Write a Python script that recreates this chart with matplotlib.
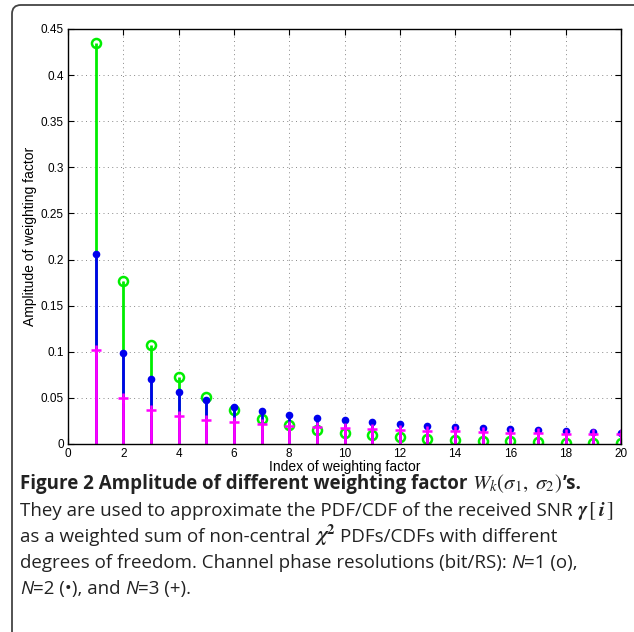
import matplotlib
matplotlib.use('Agg')
import matplotlib.pyplot as plt
from matplotlib.patches import FancyBboxPatch

# Valores: índice k e amplitude do fator de peso
indices = list(range(1, 21))
amp_n1 = [0.435, 0.1765, 0.107, 0.0723, 0.0513, 0.0369, 0.0275, 0.0206, 0.0155, 0.0119,
          0.0094, 0.0072, 0.0054, 0.0043, 0.0036, 0.0029, 0.0018, 0.0014, 0.0011, 0.0010]
amp_n2 = [0.2064, 0.0987, 0.0705, 0.0564, 0.0474, 0.0405, 0.0354, 0.0315, 0.0282, 0.0256,
          0.0238, 0.0217, 0.0198, 0.0184, 0.0169, 0.0158, 0.0148, 0.0137, 0.0130, 0.0123]
amp_n3 = [0.102, 0.0502, 0.0372, 0.0307, 0.0264, 0.0238, 0.0215, 0.0200, 0.0182, 0.0173,
          0.0158, 0.0148, 0.0144, 0.0137, 0.0130, 0.0123, 0.0119, 0.0112, 0.0108, 0.0104]

xticks = list(range(0, 21, 2))
yticks = [0, 0.05, 0.1, 0.15, 0.2, 0.25, 0.3, 0.35, 0.4, 0.45]
ytick_labels = ['0', '0.05', '0.1', '0.15', '0.2', '0.25', '0.3', '0.35', '0.4', '0.45']

plt.rcParams['mathtext.fontset'] = 'stix'

fig = plt.figure(figsize=(6.34, 6.32), dpi=100)
W, H = 634, 632
ax = fig.add_axes([68 / W, 1 - 444 / H, (621 - 68) / W, (444 - 29) / H])

# Borda arredondada da figura
box = FancyBboxPatch((12 / W, -0.05), 1.05, 1 - 5 / H + 0.05,
                     boxstyle='round,pad=0,rounding_size=0.014',
                     transform=fig.transFigure, facecolor='none',
                     edgecolor='#444444', linewidth=1.3, clip_on=False)
fig.patches.append(box)

series = [
    (amp_n1, '#00ee00', 'o', dict(markerfacecolor='none', markersize=6.5, markeredgewidth=1.8)),
    (amp_n2, '#0000ee', 'o', dict(markerfacecolor='#0000ee', markersize=5.5, markeredgewidth=0)),
    (amp_n3, '#ff00ff', '+', dict(markersize=6.5, markeredgewidth=1.8)),
]
for vals, cor, mk, estilo in series:
    ml, sl, bl = ax.stem(indices, vals, basefmt=' ')
    sl.set_color(cor)
    sl.set_linewidth(2)
    ml.set_marker(mk)
    ml.set_color(cor)
    ml.set(**estilo)

ax.set_xlim(0, 20)
ax.set_ylim(0, 0.45)
ax.set_xticks(xticks)
ax.set_yticks(yticks)
ax.set_yticklabels(ytick_labels)
ax.grid(True, linestyle=(0, (1, 3.5)), color='#888888', linewidth=0.7)
ax.set_axisbelow(True)
ax.tick_params(direction='in', top=True, right=True, length=4, width=0.8,
               labelsize=8.5, pad=3)
for lab in ax.get_xticklabels() + ax.get_yticklabels():
    lab.set_family('Liberation Sans')
for s in ax.spines.values():
    s.set_linewidth(1.0)

ax.set_xlabel('Index of weighting factor', family='Liberation Sans', fontsize=10, labelpad=0)
ax.set_ylabel('Amplitude of weighting factor', family='Liberation Sans', fontsize=10, labelpad=3)

# Legenda da figura (caption), montada pedaço a pedaço
renderer = fig.canvas.get_renderer()
fs = 13.5
fm = 15
txt = dict(family='Open Sans', fontsize=fs, color='#222222')
neg = dict(txt, fontweight='bold')
ita = dict(txt, style='italic')
mat = dict(fontsize=fm, color='#222222')
esp = 4.5


def escreve_linha(y_px, pedacos):
    x = 20
    for texto, kw, gap in pedacos:
        x += gap
        t = fig.text(x / W, 1 - y_px / H, texto, va='baseline', **kw)
        x = t.get_window_extent(renderer=renderer).x1


escreve_linha(489, [
    ('Figure 2 Amplitude of different weighting factor', neg, 0),
    (r'$W_k(\sigma_1,\ \sigma_2)$', mat, esp),
    ("\u2019s.", neg, 0.5),
])
escreve_linha(516, [
    ('They are used to approximate the PDF/CDF of the received SNR', txt, 0),
    (r'$\boldsymbol{\gamma}\,[\,\boldsymbol{i}\,]$', mat, esp),
])
escreve_linha(542, [
    ('as a weighted sum of non-central', txt, 0),
    (r'$\boldsymbol{\chi}^{\mathbf{2}}$', mat, esp),
    ('PDFs/CDFs with different', txt, esp),
])
escreve_linha(568, [
    ('degrees of freedom. Channel phase resolutions (bit/RS):', txt, 0),
    ('N', ita, esp),
    ('=1 (o),', txt, 0),
])
escreve_linha(594, [
    ('N', ita, 0),
    ('=2 (\u2022), and', txt, 0),
    ('N', ita, esp),
    ('=3 (+).', txt, 0),
])

fig.savefig('out.png', dpi=100)
